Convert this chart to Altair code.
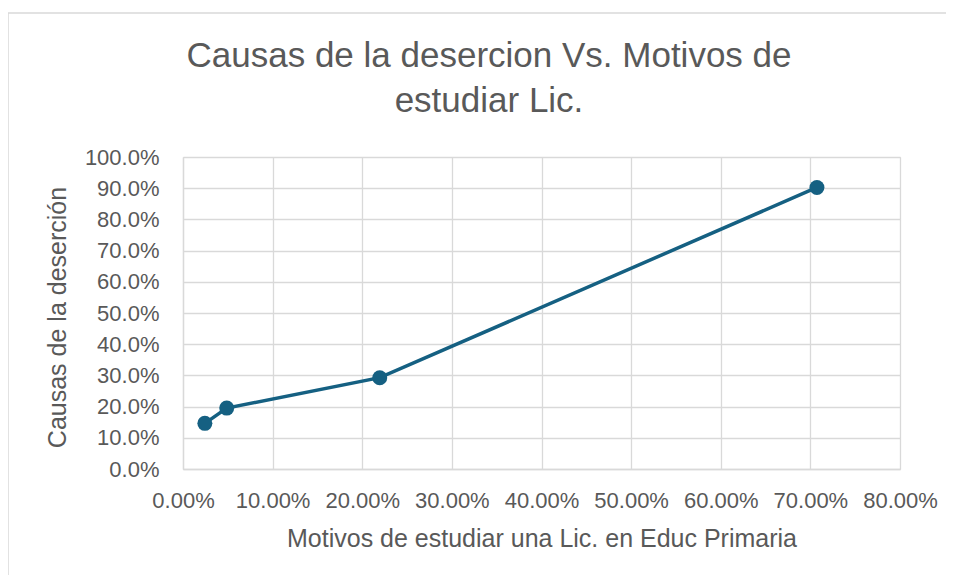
import altair as alt
import pandas as pd

# Data (fractions of 41 respondents)
motivos = [1/41, 2/41, 9/41, 29/41]      # x: Motivos de estudiar una Lic. en Educ Primaria
causas = [6/41, 8/41, 12/41, 37/41]      # y: Causas de la deserción

title_lines = ["Causas de la desercion Vs. Motivos de", "estudiar Lic."]
x_title = "Motivos de estudiar una Lic. en Educ Primaria"
y_title = "Causas de la deserción"
x_ticks = [0, 0.1, 0.2, 0.3, 0.4, 0.5, 0.6, 0.7, 0.8]
y_ticks = [0, 0.1, 0.2, 0.3, 0.4, 0.5, 0.6, 0.7, 0.8, 0.9, 1.0]

df = pd.DataFrame({"x": motivos, "y": causas, "order": list(range(len(motivos)))})

COLOR = "#156082"
TEXT = "#595959"
GRID = "#d9d9d9"
FONT = "Liberation Sans"
W, H = 717, 312

xenc = alt.X(
    "x:Q",
    scale=alt.Scale(domain=[0, 0.8], nice=False, zero=True),
    axis=alt.Axis(
        values=x_ticks, tickCount=9, format=".2%", title=x_title,
        ticks=False, labelPadding=38, labelBaseline="alphabetic",
        labelOverlap=False, labelFlush=False,
        labelFontSize=22, labelColor=TEXT, labelFont=FONT,
        titleFontSize=25, titleColor=TEXT, titleFont=FONT, titleFontWeight="normal",
        titleX=W / 2, titleY=77, titleBaseline="alphabetic", titleAlign="center",
        domainColor=GRID, gridColor=GRID, gridWidth=1.3, domainWidth=1.3,
    ),
)
yenc = alt.Y(
    "y:Q",
    scale=alt.Scale(domain=[0, 1], nice=False, zero=True),
    axis=alt.Axis(
        values=y_ticks, tickCount=11, format=".1%", title=y_title,
        ticks=False, labelPadding=24, labelOverlap=False, labelFlush=False,
        labelFontSize=22, labelColor=TEXT, labelFont=FONT,
        titleFontSize=25, titleColor=TEXT, titleFont=FONT, titleFontWeight="normal",
        titleX=-118, titleY=H / 2 + 4, titleBaseline="alphabetic", titleAlign="center", titleAngle=-90,
        domainColor=GRID, gridColor=GRID, gridWidth=1.3, domainWidth=1.3,
    ),
)

one = pd.DataFrame({"a": [0]})

frame = alt.Chart(one).mark_rect(
    filled=False, stroke=GRID, strokeWidth=1.5
).encode(
    x=alt.value(-175), x2=alt.value(W + 200),
    y=alt.value(-144), y2=alt.value(H + 300),
)

title = alt.Chart(one).mark_text(
    text=title_lines, font=FONT, fontSize=35, color=TEXT, lineHeight=45,
    align="center", baseline="alphabetic",
).encode(x=alt.value(306), y=alt.value(-90))

base = alt.Chart(df).encode(x=xenc, y=yenc)
line = base.mark_line(color=COLOR, strokeWidth=3.5).encode(order="order:O")
points = base.mark_circle(color=COLOR, opacity=1, size=225)

chart = alt.layer(frame, title, line, points).properties(
    width=W, height=H,
    autosize=alt.AutoSizeParams(type="none"),
    padding={"left": 175, "top": 149, "right": 46, "bottom": 106},
).configure_view(stroke=GRID, strokeWidth=1.3).configure(background="white")

chart.save("out.html", embed_options={"renderer": "svg", "actions": False})
